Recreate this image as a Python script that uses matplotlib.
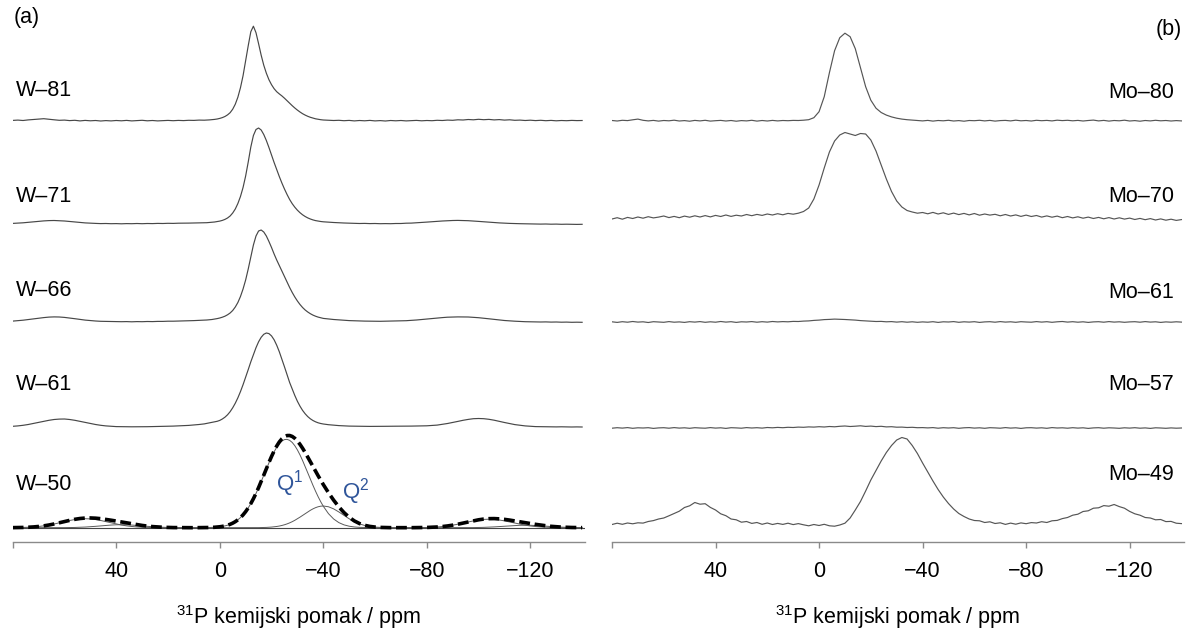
import matplotlib
matplotlib.use("Agg")
import matplotlib.pyplot as plt
import numpy as np

plt.rcParams['font.family'] = ['Liberation Sans', 'DejaVu Sans']
plt.rcParams['mathtext.fontset'] = 'custom'
plt.rcParams['mathtext.rm'] = 'Liberation Sans'
plt.rcParams['mathtext.it'] = 'Liberation Sans:italic'

# ---------------- data (chemical shift in ppm, intensity in arbitrary units) -------------
PPM_A = [80, 78, 76, 74, 72, 70, 68, 66, 64, 62, 60, 58, 56, 54, 52, 50, 48, 46, 44, 42,
         40, 38, 36, 34, 32, 30, 28, 26, 24, 22, 20, 18, 16, 14, 12, 10, 8, 6,
         5, 4, 3, 2, 1, 0, -1, -2, -3, -4, -5, -6, -7, -8, -9, -10, -11, -12, -13, -14, -15,
         -16, -17, -18, -19, -20, -21, -22, -23, -24, -25, -26, -27, -28, -29, -30, -31, -32,
         -33, -34, -35, -36, -37, -38, -39, -40,
         -42, -44, -46, -48, -50, -52, -54, -56, -58, -60, -62, -64, -66, -68, -70, -72, -74,
         -76, -78, -80, -82, -84, -86, -88, -90, -92, -94, -96, -98, -100, -102, -104, -106,
         -108, -110, -112, -114, -116, -118, -120, -122, -124, -126, -128, -130, -132, -134,
         -136, -138, -140]

W81 = [0.3, 0.6, 0.2, 0.8, 1.2, 1.6, 2.0, 1.4, 0.9, 0.4, 0.6, 0.1, 0.4, -0.2, 0.3, -0.1, 0.2, -0.3, 0.1, -0.2,
       0.2, -0.1, 0.3, -0.2, 0.1, 0.4, -0.1, 0.2, -0.2, 0.1, 0.3, 0.0, 0.3, 0.1, 0.4, 0.3, 0.6, 0.5,
       0.6, 0.8, 1.0, 1.3, 1.7, 2.3, 3.1, 4.2, 5.8, 8.0, 11.5, 16.5, 23.5, 33, 45, 60, 75, 89, 94.5, 88,
       77, 65.5, 55.5, 47.5, 41, 36, 32, 29, 26.8, 24.8, 22.5, 20, 17.5, 15, 12.7, 10.6, 8.7, 7, 5.6, 4.4,
       3.4, 2.6, 1.9, 1.4, 1.0, 0.7,
       0.5, 0.2, 0.4, 0.0, 0.3, -0.2, 0.2, -0.1, 0.3, -0.2, 0.1, -0.3, 0.2, -0.1, 0.2, -0.2, 0.1, 0.3, -0.1, 0.2,
       0.0, 0.4, 0.2, 0.6, 0.4, 0.9, 0.7, 1.2, 0.9, 1.4, 1.0, 1.3, 0.8, 1.1, 0.6, 0.9, 0.4, 0.6, 0.2, 0.5,
       0.1, 0.4, 0.0, 0.3, -0.1, 0.2, 0.0, 0.3, 0.1, 0.2]

W71 = [0.6, 0.9, 1.2, 1.7, 2.2, 2.7, 3.1, 3.4, 3.5, 3.3, 3.0, 2.5, 2.0, 1.5, 1.1, 0.8, 0.6, 0.4, 0.5, 0.3,
       0.4, 0.2, 0.4, 0.3, 0.5, 0.3, 0.5, 0.4, 0.6, 0.5, 0.7, 0.6, 0.8, 0.8, 0.9, 1.0, 1.1, 1.2,
       1.3, 1.5, 1.7, 2.0, 2.4, 2.9, 3.6, 4.6, 6.0, 8.0, 11, 15, 20.5, 27.5, 36.5, 48, 62, 77, 88.5, 94.5,
       96, 94, 89.5, 83.5, 76.5, 69, 61.5, 54.5, 47.5, 41, 35, 29.5, 24.5, 20.3, 16.8, 13.8, 11.3, 9.2, 7.5, 6.1,
       5.0, 4.1, 3.4, 2.9, 2.5, 2.2,
       1.8, 1.5, 1.2, 1.0, 0.8, 0.7, 0.5, 0.6, 0.4, 0.5, 0.3, 0.4, 0.3, 0.5, 0.5, 0.8, 0.9, 1.2, 1.5, 1.9,
       2.3, 2.7, 3.0, 3.3, 3.5, 3.6, 3.5, 3.3, 3.0, 2.6, 2.2, 1.8, 1.4, 1.1, 0.8, 0.6, 0.4, 0.3, 0.2, 0.1,
       0.0, -0.1, 0.0, -0.2, -0.1, -0.3, -0.2, -0.3, -0.4, -0.3]

W66 = [0.9, 1.3, 1.8, 2.4, 3.1, 3.8, 4.4, 4.9, 5.1, 5.0, 4.6, 4.0, 3.3, 2.6, 1.9, 1.4, 1.0, 0.7, 0.6, 0.4,
       0.5, 0.3, 0.4, 0.2, 0.4, 0.3, 0.5, 0.4, 0.6, 0.6, 0.8, 0.8, 1.0, 1.1, 1.2, 1.4, 1.6, 1.8,
       2.0, 2.2, 2.5, 2.9, 3.4, 4.0, 4.8, 5.8, 7.2, 9.0, 11.5, 15, 19.5, 25.5, 33, 42, 53, 65, 77, 86,
       91, 92, 90, 86, 80.5, 74.5, 68, 62, 56.5, 51, 45.5, 40, 34.5, 29.5, 25, 21, 17.5, 14.5, 12, 10,
       8.3, 6.9, 5.8, 4.9, 4.2, 3.6,
       3.0, 2.5, 2.1, 1.7, 1.4, 1.2, 1.0, 0.9, 0.8, 0.8, 0.7, 0.8, 0.8, 0.9, 1.1, 1.3, 1.6, 2.0, 2.5, 3.0,
       3.5, 4.0, 4.4, 4.8, 5.0, 5.1, 5.1, 5.0, 4.7, 4.3, 3.8, 3.2, 2.6, 2.0, 1.5, 1.1, 0.8, 0.5, 0.3, 0.2,
       0.1, 0.0, 0.1, -0.1, 0.0, -0.2, -0.1, -0.3, -0.2, -0.3]

W61 = [0.7, 1.1, 1.7, 2.5, 3.5, 4.6, 5.7, 6.7, 7.5, 7.9, 8.0, 7.5, 6.7, 5.7, 4.6, 3.5, 2.5, 1.7, 1.1, 0.7,
       0.4, 0.3, 0.2, 0.2, 0.2, 0.3, 0.3, 0.4, 0.5, 0.6, 0.7, 0.9, 1.1, 1.3, 1.6, 2.0, 2.5, 3.1,
       3.6, 4.0, 4.5, 5.0, 5.7, 6.6, 8.0, 9.8, 12.2, 15.3, 19.2, 23.8, 29.2, 35.4, 42.3, 49.7, 57.4, 65.2,
       72.4, 79.3, 85.2, 89.7, 92.7, 94, 93.4, 91.1, 87.2, 81.8, 75.3, 67.9, 60.2, 52.3, 44.5, 38, 31.5,
       25.7, 20.8, 16.6, 13.2, 10.4, 8.2, 6.5, 5.2, 4.2, 3.5, 3.0,
       2.3, 1.8, 1.4, 1.1, 0.9, 0.8, 0.7, 0.6, 0.6, 0.6, 0.6, 0.7, 0.8, 0.8,
       0.8, 0.8, 0.9, 1.0, 1.1, 1.2, 1.5, 1.9, 2.7, 3.5, 4.5, 5.6, 6.7, 7.6, 8.3, 8.5, 8.3, 7.7, 6.8, 5.6,
       4.5, 3.4, 2.4, 1.7, 1.1, 0.7, 0.4, 0.3, 0.2, 0.2, 0.1, 0.2, 0.1, 0.0, 0.1, 0.0]

# W-50: fitted components Q1, Q2 (with spinning sidebands) and the fit envelope
W50_Q1 = [0.07, 0.14, 0.26, 0.45, 0.76, 1.22, 1.85, 2.68, 3.70, 4.85, 6.06, 7.21, 8.15, 8.78, 9.0, 8.78,
          8.15, 7.21, 6.06, 4.85, 3.70, 2.68, 1.85, 1.22, 0.76, 0.45, 0.26, 0.14, 0.07, 0.03, 0.01, 0,
          0, 0, 0, 0, 0.03, 0.08,
          0.13, 0.20, 0.30, 0.44, 0.64, 0.92, 1.30, 1.81, 2.50, 3.40, 4.56, 6.03, 7.86, 10.11, 12.83, 16.05,
          19.81, 24.12, 28.95, 34.27, 40.03, 46.10, 52.36, 58.64, 64.79, 70.60, 75.86, 80.41, 84.05, 86.65,
          88.10, 88.35, 87.37, 85.23, 81.98, 77.78, 72.78, 67.17, 61.14, 54.88, 48.58, 42.43, 36.54, 31.03,
          25.99, 21.47,
          14.06, 8.71, 5.10, 2.83, 1.49, 0.74, 0.35, 0.15, 0.06, 0.02, 0.01, 0, 0, 0, 0, 0,
          0.03, 0.07, 0.13, 0.24, 0.43, 0.72, 1.15, 1.75, 2.53, 3.49, 4.58, 5.73, 6.81, 7.70, 8.30, 8.5,
          8.30, 7.70, 6.81, 5.73, 4.58, 3.49, 2.53, 1.75, 1.15, 0.72, 0.43, 0.24, 0.13, 0.07, 0.03, 0.01,
          0.01, 0]

W50_Q2 = [0, 0, 0, 0, 0, 0, 0.01, 0.01, 0.02, 0.03, 0.07, 0.13, 0.24, 0.41, 0.65, 0.97, 1.37, 1.82, 2.26,
          2.65, 2.91, 3.0, 2.91, 2.65, 2.26, 1.82, 1.37, 0.97, 0.65, 0.41, 0.24, 0.13, 0.07, 0.03, 0.01,
          0, 0, 0,
          0, 0, 0, 0, 0, 0, 0, 0, 0, 0, 0, 0, 0, 0, 0,
          0.01, 0.01, 0.02, 0.03, 0.05, 0.08, 0.13, 0.20, 0.29, 0.43, 0.62, 0.88, 1.22, 1.66, 2.23, 2.94,
          3.80, 4.83, 6.03, 7.40, 8.92, 10.56, 12.29, 14.04, 15.76, 17.38, 18.82, 20.03, 20.94, 21.51, 21.7,
          20.94, 18.82, 15.76, 12.29, 8.92, 6.03, 3.80, 2.23, 1.22, 0.62, 0.29, 0.13, 0.05, 0.02, 0.01,
          0, 0, 0, 0, 0, 0, 0, 0,
          0.0, 0.01, 0.01, 0.03, 0.06, 0.11, 0.20, 0.34, 0.54, 0.81, 1.14, 1.52, 1.89, 2.21, 2.42, 2.5,
          2.42, 2.21, 1.89, 1.52, 1.14, 0.81, 0.54, 0.34, 0.20, 0.11, 0.06]

W50_FIT = [0.07, 0.14, 0.26, 0.45, 0.76, 1.22, 1.86, 2.69, 3.72, 4.88, 6.13, 7.34, 8.39, 9.19, 9.65, 9.75,
           9.52, 9.03, 8.32, 7.50, 6.61, 5.68, 4.76, 3.87, 3.02, 2.27, 1.63, 1.11, 0.72, 0.44, 0.25, 0.13,
           0.07, 0.03, 0.01, 0, 0.03, 0.08,
           0.13, 0.20, 0.30, 0.44, 0.64, 0.92, 1.30, 1.81, 2.50, 3.40, 4.56, 6.03, 7.86, 10.11, 12.83, 16.06,
           19.82, 24.14, 28.98, 34.32, 40.11, 46.23, 52.56, 58.93, 65.22, 71.22, 76.74, 81.63, 85.71, 88.88,
           91.04, 92.15, 92.20, 91.26, 89.38, 86.70, 83.34, 79.46, 75.18, 70.64, 65.96, 61.25, 56.57, 51.97,
           47.50, 43.17,
           35.00, 27.53, 20.86, 15.12, 10.41, 6.77, 4.15, 2.38, 1.28, 0.64, 0.30, 0.13, 0.05, 0.02, 0.01, 0,
           0.03, 0.07, 0.13, 0.24, 0.43, 0.72, 1.15, 1.75, 2.54, 3.50, 4.61, 5.79, 6.92, 7.90, 8.64, 9.04,
           9.11, 8.84, 8.33, 7.62, 6.79, 5.91, 5.03, 4.17, 3.36, 2.61, 1.95, 1.38, 0.94, 0.61, 0.37, 0.21,
           0.12, 0.06]

PPM_B = [80, 78, 76, 74, 72, 70, 68, 66, 64, 62, 60, 58, 56, 54, 52, 50, 48, 46, 44, 42, 40, 38, 36, 34,
         32, 30, 28, 26, 24, 22, 20, 18, 16, 14, 12, 10, 8,
         6, 4, 2, 0, -2, -4, -6, -8, -10, -12, -14, -16, -18, -20, -22, -24, -26, -28, -30, -32, -34, -36,
         -38, -40,
         -42, -44, -46, -48, -50, -52, -54, -56, -58, -60, -62, -64, -66, -68, -70, -72, -74, -76, -78,
         -80, -82, -84, -86, -88, -90, -92, -94, -96, -98, -100, -102, -104, -106, -108, -110, -112, -114,
         -116, -118, -120, -122, -124, -126, -128, -130, -132, -134, -136, -138, -140]

MO80 = [0.2, -0.3, 0.4, 0.1, 0.9, 1.6, 0.4, -0.2, 0.3, -0.4, 0.2, -0.1, 0.5, -0.3, 0.1, -0.5, 0.3, -0.2, 0.4,
        -0.4, 0.0, 0.3, -0.3, 0.2, -0.5, 0.1, -0.2, 0.4, -0.4, 0.2, -0.3, 0.3, -0.2, 0.2, 0.0, 0.3, 0.2,
        0.5, 1.0, 3.0, 9.0, 24, 48, 70, 83, 87.5, 84, 72, 53, 34, 20.5, 12.5, 8.2, 5.6, 3.8, 2.5, 1.6, 1.0,
        0.6, 0.2, -0.2,
        0.3, -0.4, 0.2, -0.1, 0.4, -0.3, 0.1, -0.5, 0.2, 0.0, 0.4, -0.2, 0.3, -0.4, 0.1, 0.3, -0.2, 0.5,
        -0.1, 0.2, -0.3, 0.4, 0.0, 0.3, -0.2, 0.5, 0.1, 0.4, -0.1, 0.3, -0.3, 0.2, 0.6, -0.2, 0.3, -0.4,
        0.2, -0.1, 0.5, -0.3, 0.1, -0.5, 0.2, -0.2, 0.4, -0.1, 0.2, -0.3, 0.1, -0.2]

MO70 = [-1.0, 0.3, -1.2, 0.6, -0.5, 1.0, -0.2, 1.3, 0.1, 0.9, 2.0, 0.4, 1.6, 0.3, 1.9, 0.8, 2.2, 1.0, 2.4,
        1.1, 2.6, 1.5, 3.0, 1.6, 2.8, 2.0, 3.5, 2.3, 3.6, 2.6, 4.0, 3.0, 4.3, 3.2, 4.6, 3.8, 4.8,
        6.5, 10, 19, 33, 50, 66, 77, 83, 85.5, 84, 82.5, 84.5, 84, 78, 67, 53, 39, 26.5, 17, 11, 7.5, 6.0,
        4.8, 5.5,
        4.2, 5.6, 4.0, 5.2, 3.6, 4.9, 3.4, 4.6, 3.1, 4.5, 2.8, 4.0, 2.9, 3.7, 2.2, 3.5, 2.0, 3.1, 1.6, 2.9,
        1.5, 2.5, 0.9, 2.1, 0.8, 1.9, 0.3, 1.5, 0.1, 1.2, -0.2, 0.9, -0.5, 0.6, -0.8, 0.4, -1.0, 0.2, -1.1,
        -0.1, -1.5, -0.4, -1.7, -0.6, -2.0, -0.9, -2.2, -1.2, -2.4, -1.6]

MO61 = [0.2, -0.4, 0.3, -0.2, 0.5, -0.1, 0.2, -0.5, 0.3, 0.0, -0.3, 0.4, -0.2, 0.1, -0.4, 0.3, -0.1, 0.4,
        -0.3, 0.2, -0.2, 0.5, -0.1, 0.3, -0.4, 0.2, 0.0, 0.4, -0.2, 0.3, -0.1, 0.5, 0.1, 0.4, 0.2, 0.6, 0.5,
        0.9, 1.1, 1.6, 1.9, 2.4, 2.6, 2.9, 2.7, 2.5, 2.2, 1.9, 1.4, 1.1, 0.8, 0.5, 0.6, 0.2, 0.4, -0.1, 0.3,
        -0.2, 0.2, -0.3, 0.1,
        -0.2, 0.3, -0.4, 0.2, 0.0, 0.4, -0.3, 0.2, -0.1, 0.3, -0.4, 0.1, 0.3, -0.2, 0.4, -0.1, 0.2, -0.3,
        0.3, 0.0, -0.2, 0.4, -0.1, 0.3, -0.3, 0.2, 0.5, -0.1, 0.3, -0.2, 0.2, -0.4, 0.1, 0.3, -0.2, 0.4,
        -0.1, 0.2, -0.3, 0.1, 0.3, -0.2, 0.4, -0.1, 0.2, -0.4, 0.1, -0.2, 0.2, -0.1]

MO57 = [-0.2, 0.3, -0.1, 0.4, -0.3, 0.2, 0.0, 0.3, -0.4, 0.1, 0.3, -0.2, 0.4, -0.1, 0.2, -0.3, 0.3, 0.0,
        -0.2, 0.4, -0.1, 0.2, -0.4, 0.3, 0.1, -0.2, 0.4, 0.0, 0.3, -0.1, 0.5, 0.2, 0.6, 0.3, 0.7, 0.5, 0.9,
        0.7, 1.1, 0.9, 1.3, 1.0, 1.5, 1.2, 1.7, 2.0, 1.5, 1.8, 2.2, 1.6, 1.9, 1.4, 1.7, 1.1, 1.3, 0.8, 0.9,
        0.5, 0.7, 0.3, 0.4,
        0.1, 0.4, -0.2, 0.3, 0.0, 0.3, -0.3, 0.2, 0.4, -0.1, 0.2, -0.3, 0.3, 0.1, -0.2, 0.4, -0.1, 0.2,
        -0.4, 0.2, 0.3, -0.1, 0.2, -0.3, 0.4, 0.0, 0.2, -0.2, 0.3, -0.1, 0.2, -0.4, 0.1, 0.3, -0.2, 0.2,
        0.0, -0.3, 0.2, -0.1, 0.3, -0.2, 0.1, -0.4, 0.2, 0.0, -0.3, 0.1, -0.2, 0.0]

MO49 = [-0.5, 0.8, -0.3, 1.0, 0.2, 1.2, 0.9, 2.5, 3.4, 5.0, 6.0, 8.2, 10.5, 12.8, 16.5, 18.2, 21.5, 19.8,
        20.3, 16.6, 14.0, 10.2, 8.3, 5.0, 4.2, 1.8, 2.5, 0.6, 1.5, -0.3, 1.0, -0.5, 0.6, -0.4, 0.8, -0.6, 0.4,
        -0.8, -1.8, -0.5, -1.5, -0.3, -1.8, -2.2, -1.0, 0.8, 6, 14, 22.5, 33, 44, 53.5, 63, 71.5, 78.5, 84,
        86.5, 85, 78.5, 70.5, 61,
        52, 43, 34.5, 27, 20.5, 15, 10.5, 7.5, 5, 3.5, 3.2, 1.5, 2.2, 0.5, 1.2, -0.4, 0.9, -0.2, 1.1, 0.3,
        1.4, 1.0, 2.3, 1.5, 3.2, 3.6, 5.4, 6.5, 8.8, 9.8, 12.5, 13.2, 15.8, 16.2, 18.4, 17.8, 19.5, 17.4,
        15.8, 12.6, 10.2, 8.8, 6.5, 6.0, 4.2, 4.5, 2.4, 2.6, 0.8, 0.4]

LABELS_A = ["W\u201381", "W\u201371", "W\u201366", "W\u201361", "W\u201350"]
LABELS_B = ["Mo\u201380", "Mo\u201370", "Mo\u201361", "Mo\u201357", "Mo\u201349"]
TICKS = [80, 40, 0, -40, -80, -120]
TICK_LABELS = ["", "40", "0", "\u221240", "\u221280", "\u2212120"]
XLABEL = "$^{31}$P kemijski pomak / ppm"

# ---------------- layout (pixel based) ----------------
W, H = 1186, 632
AX_H = 541.7                       # axis line position from top, in px
fig = plt.figure(figsize=(W / 100, H / 100), dpi=100)

def make_ax(x0):
    ax = fig.add_axes([x0 / W, (H - AX_H) / H, 572 / W, AX_H / H])
    ax.set_xlim(80, -141)
    ax.set_ylim(0, AX_H)
    for s in ("top", "left", "right"):
        ax.spines[s].set_visible(False)
    ax.spines["bottom"].set_color("#8a8a8a")
    ax.spines["bottom"].set_linewidth(1.0)
    ax.set_yticks([])
    ax.set_xticks(TICKS)
    ax.set_xticklabels(TICK_LABELS)
    ax.tick_params(axis="x", direction="out", length=4, width=1.0, color="#8a8a8a",
                   pad=10, labelsize=15.5, labelcolor="black")
    ax.patch.set_alpha(0)
    return ax

ax_a = make_ax(12.7)
ax_b = make_ax(612)

LC = "#474747"
offs_a = [421.0, 317.7, 219.7, 114.7, 14.0]
for y, off in zip([W81, W71, W66, W61], offs_a[:4]):
    ax_a.plot(PPM_A, np.asarray(y) + off, color=LC, lw=0.85)

off50 = offs_a[4]
ax_a.axhline(off50, color="#444444", lw=0.8)
ax_a.plot(PPM_A, np.asarray(W50_Q1) + off50, color="#5a5a5a", lw=0.7)
ax_a.plot(PPM_A, np.asarray(W50_Q2) + off50, color="#5a5a5a", lw=0.7)
ax_a.plot(PPM_A, np.asarray(W50_FIT) + off50, color="black", lw=2.6,
          dashes=(3.0, 1.3), dash_capstyle="butt")

offs_b = [421.0, 323.7, 219.7, 113.7, 17.7]
for y, off in zip([MO80, MO70, MO61, MO57, MO49], offs_b):
    ax_b.plot(PPM_B, np.asarray(y) + off, color="#555555", lw=0.85)

# sample labels
ya = [91, 197, 290, 385, 484]
for lab, yy in zip(LABELS_A, ya):
    fig.text(16 / W, 1 - yy / H, lab, fontsize=15.5, ha="left", va="center")
yb = [93, 197, 292, 384, 474]
for lab, yy in zip(LABELS_B, yb):
    fig.text(1174 / W, 1 - yy / H, lab, fontsize=15.5, ha="right", va="center")

fig.text(14 / W, 1 - 18 / H, "(a)", fontsize=15.5, ha="left", va="center")
fig.text(1182 / W, 1 - 29 / H, "(b)", fontsize=15.5, ha="right", va="center")

QC = "#2f559a"
fig.text(290 / W, 1 - 484 / H, "Q$^{1}$", fontsize=16, color=QC, ha="center", va="center")
fig.text(356 / W, 1 - 492 / H, "Q$^{2}$", fontsize=16, color=QC, ha="center", va="center")

fig.text(298.7 / W, 1 - 617 / H, XLABEL, fontsize=15.5, ha="center", va="center")
fig.text(898 / W, 1 - 617 / H, XLABEL, fontsize=15.5, ha="center", va="center")

fig.savefig("out.png", dpi=100, facecolor="white")
